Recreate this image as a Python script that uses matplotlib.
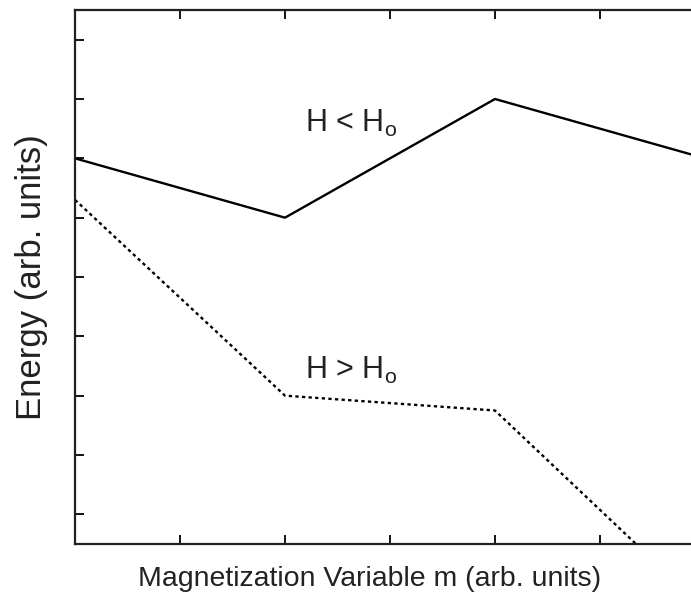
import matplotlib
matplotlib.use("Agg")
from matplotlib import pyplot as plt
import numpy as np

plt.rcParams['font.family'] = ['Liberation Sans', 'DejaVu Sans']

# magnetization m (arb. units) and energies
m = [0, 2, 4, 6]
energy_low_field = [6.5, 5.5, 7.5, 6.5]      # H < Ho
energy_high_field = [5.8, 2.5, 2.25, -1.1]   # H > Ho

xticks = [1, 2, 3, 4, 5]
yticks = [0.5, 1.5, 2.5, 3.5, 4.5, 5.5, 6.5, 7.5, 8.5]

fig = plt.figure(figsize=(6.91, 5.94), dpi=100)
ax = fig.add_axes([75 / 691, 50 / 594, 630 / 691, 534 / 594])

ax.plot(m, energy_low_field, color='black', lw=1.7)
ax.plot(m, energy_high_field, color='black', lw=1.7, dashes=(1.4, 1.4))

ax.set_xlim(0, 6)
ax.set_ylim(0, 9)
ax.set_xticks(xticks)
ax.set_yticks(yticks)
ax.set_xticklabels([])
ax.set_yticklabels([])
ax.tick_params(direction='in', length=6.5, width=1.3, top=True, right=True,
               colors='black')
for s in ax.spines.values():
    s.set_linewidth(1.6)
    s.set_color('#222222')

ax.text(2.19, 6.94, r'H < H$_\mathregular{o}$', fontsize=22, color='#222222')
ax.text(2.19, 2.78, r'H > H$_\mathregular{o}$', fontsize=22, color='#222222')

ax.set_xlabel('Magnetization Variable m (arb. units)', fontsize=20.5,
              color='#222222')
ax.xaxis.set_label_coords((370 - 75) / 630, -22 / 534)
ax.set_ylabel('Energy (arb. units)', fontsize=25, color='#222222')
ax.yaxis.set_label_coords(-27 / 630, 0.5)

fig.savefig('out.png', dpi=100)
